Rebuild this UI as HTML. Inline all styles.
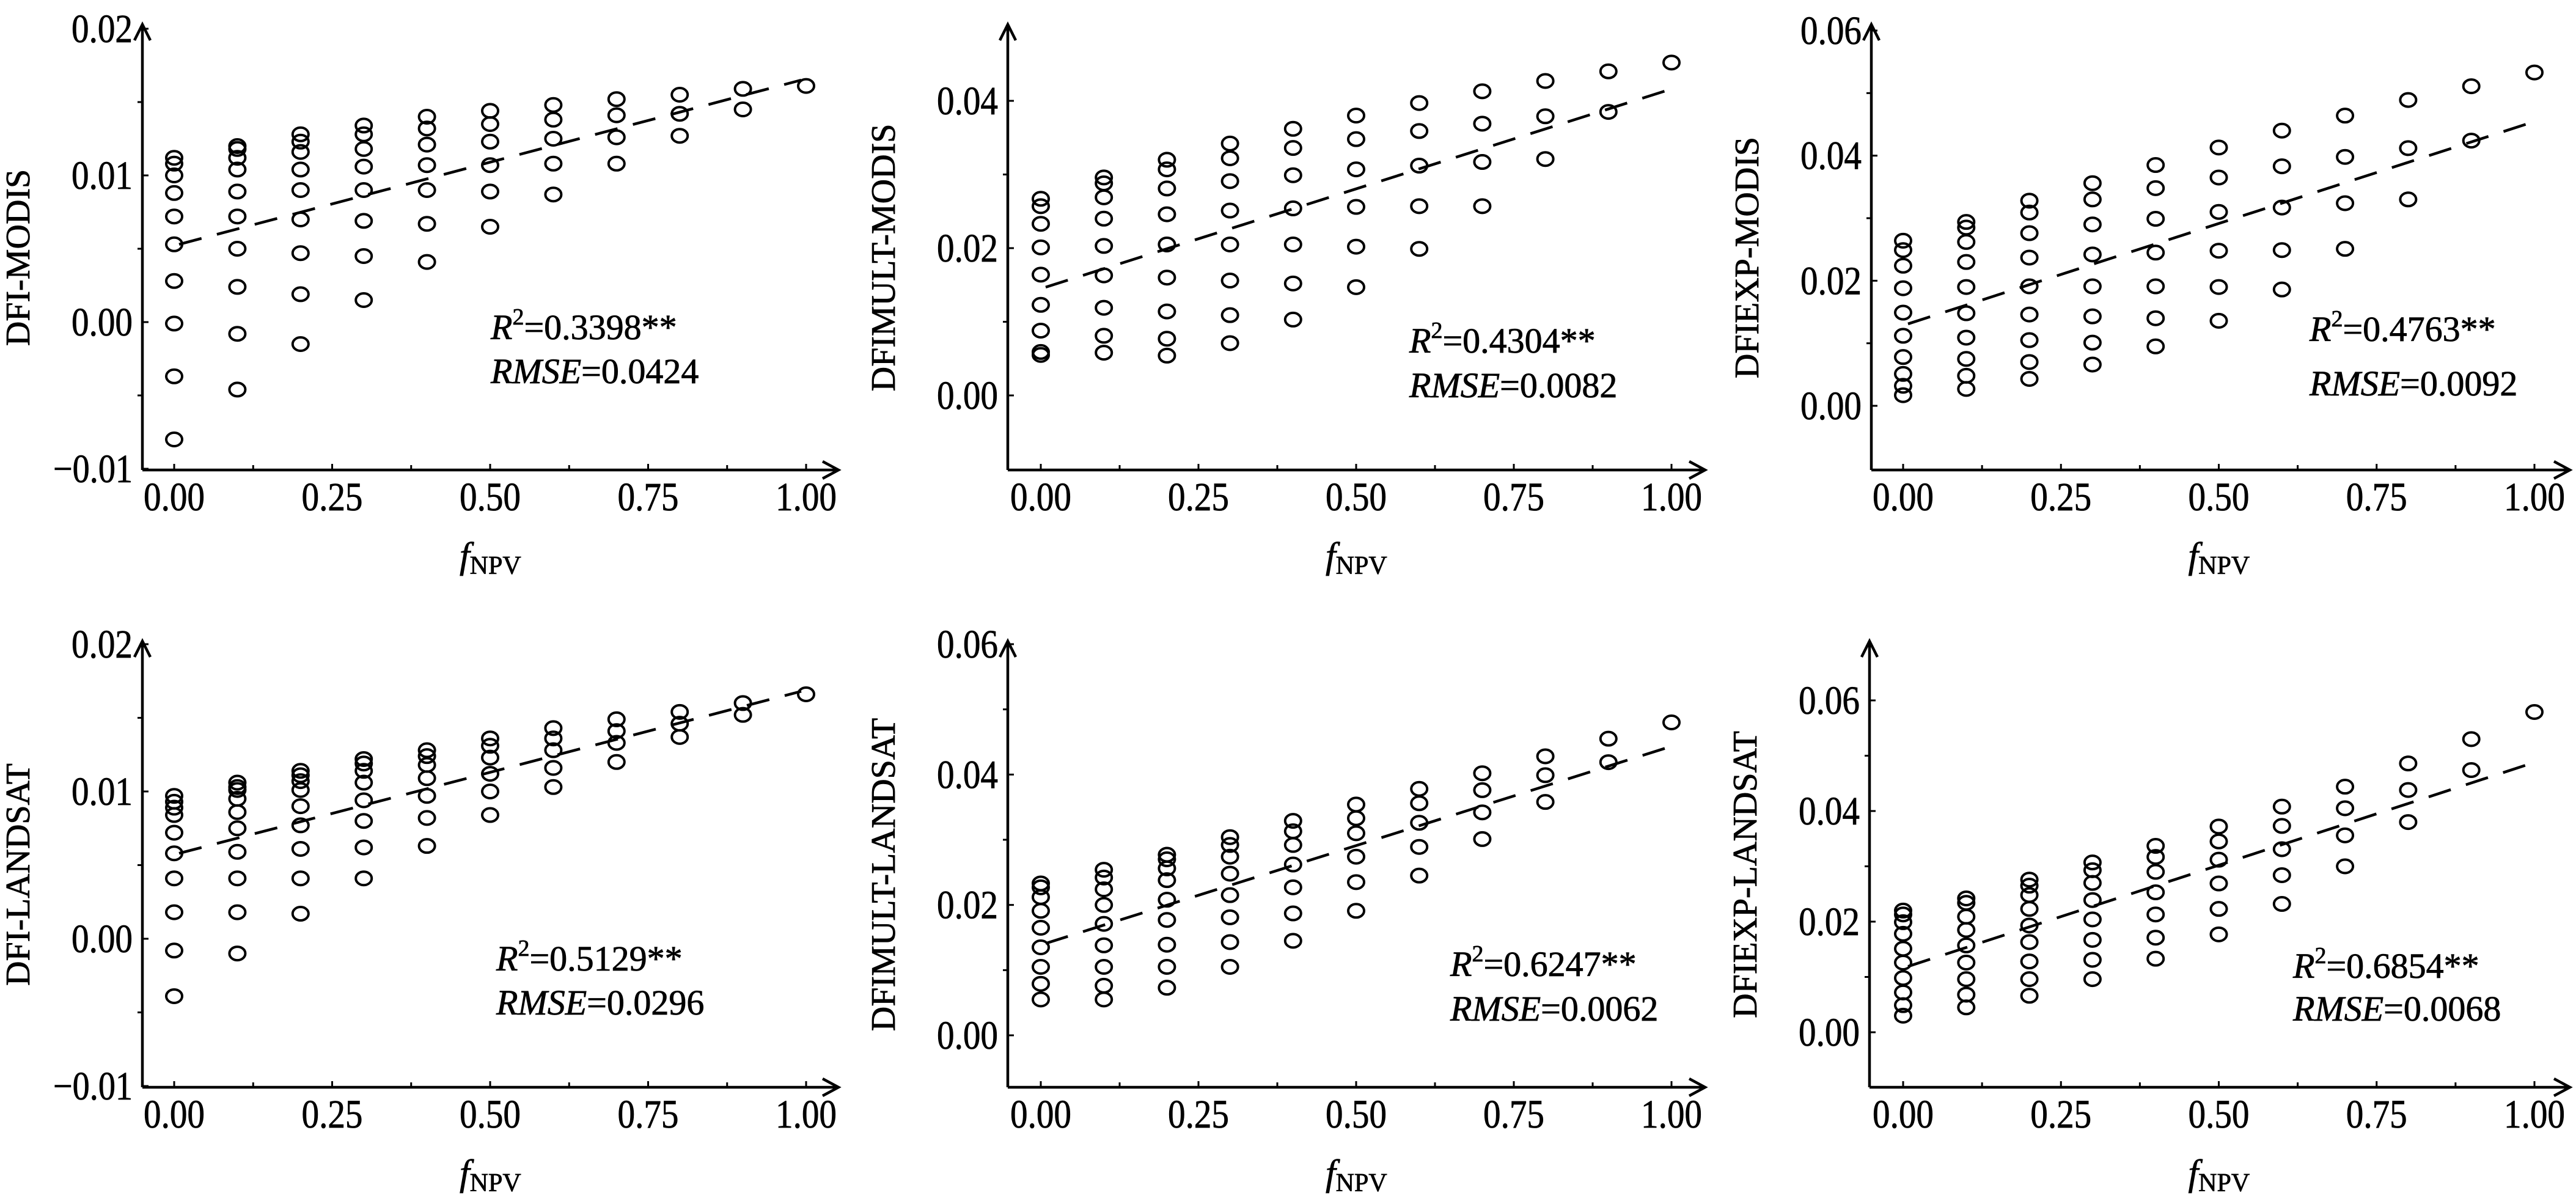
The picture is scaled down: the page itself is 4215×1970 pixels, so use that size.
<!DOCTYPE html>
<html><head><meta charset="utf-8">
<style>
html,body{margin:0;padding:0;background:#fff;}
svg{display:block;}
text{font-family:"Liberation Serif","Times New Roman",serif;fill:#000;stroke:#000;stroke-width:0.8;}
</style></head>
<body>
<svg id="fig" width="4215" height="1970" viewBox="0 0 4215 1970" xmlns="http://www.w3.org/2000/svg"></svg>
<script>
// ---- data ----
const fnpvCategories = [0,0.1,0.2,0.3,0.4,0.5,0.6,0.7,0.8,0.9,1.0];
const dfiModis = [
 [0.0112,0.0108,0.0100,0.0088,0.0072,0.0053,0.0028,-0.0001,-0.0037,-0.0080],
 [0.0120,0.0118,0.0112,0.0104,0.0089,0.0072,0.0050,0.0024,-0.0008,-0.0046],
 [0.0128,0.0123,0.0116,0.0104,0.0090,0.0070,0.0047,0.0019,-0.0015],
 [0.0134,0.0128,0.0118,0.0106,0.0090,0.0069,0.0045,0.0015],
 [0.0140,0.0132,0.0121,0.0107,0.0090,0.0067,0.0041],
 [0.0144,0.0135,0.0123,0.0107,0.0089,0.0065],
 [0.0148,0.0138,0.0125,0.0108,0.0087],
 [0.0152,0.0141,0.0126,0.0108],
 [0.0155,0.0142,0.0127],
 [0.0159,0.0145],
 [0.0161]];
const dfimultModis = [
 [0.0267,0.0257,0.0233,0.0201,0.0164,0.0123,0.0088,0.0059,0.0055],
 [0.0296,0.0288,0.0269,0.0240,0.0203,0.0163,0.0119,0.0081,0.0058],
 [0.0320,0.0307,0.0281,0.0246,0.0205,0.0160,0.0114,0.0077,0.0054],
 [0.0342,0.0322,0.0291,0.0251,0.0205,0.0156,0.0109,0.0071],
 [0.0362,0.0336,0.0299,0.0254,0.0205,0.0152,0.0103],
 [0.0380,0.0348,0.0307,0.0256,0.0202,0.0147],
 [0.0397,0.0359,0.0312,0.0257,0.0199],
 [0.0413,0.0369,0.0317,0.0257],
 [0.0427,0.0379,0.0321],
 [0.0440,0.0385],
 [0.0452]];
const dfiexpModis = [
 [0.0264,0.0249,0.0224,0.0188,0.0149,0.0112,0.0078,0.0051,0.0032,0.0017],
 [0.0294,0.0285,0.0262,0.0230,0.0190,0.0148,0.0109,0.0075,0.0048,0.0027],
 [0.0328,0.0309,0.0276,0.0237,0.0191,0.0146,0.0105,0.0070,0.0043],
 [0.0356,0.0330,0.0290,0.0242,0.0191,0.0143,0.0101,0.0066],
 [0.0385,0.0348,0.0299,0.0245,0.0191,0.0140,0.0095],
 [0.0413,0.0365,0.0310,0.0248,0.0190,0.0136],
 [0.0440,0.0383,0.0317,0.0249,0.0186],
 [0.0464,0.0398,0.0324,0.0251],
 [0.0489,0.0412,0.0330],
 [0.0511,0.0424],
 [0.0533]];
const dfiLandsat = [
 [0.0097,0.0093,0.0089,0.0084,0.0072,0.0058,0.0041,0.0018,-0.0008,-0.0039],
 [0.0106,0.0103,0.0101,0.0095,0.0086,0.0075,0.0059,0.0041,0.0018,-0.0010],
 [0.0114,0.0111,0.0107,0.0101,0.0090,0.0077,0.0061,0.0041,0.0017],
 [0.0122,0.0119,0.0114,0.0106,0.0094,0.0080,0.0062,0.0041],
 [0.0128,0.0124,0.0118,0.0109,0.0097,0.0082,0.0063],
 [0.0136,0.0131,0.0123,0.0112,0.0100,0.0084],
 [0.0143,0.0136,0.0128,0.0116,0.0103],
 [0.0149,0.0141,0.0133,0.0120],
 [0.0154,0.0146,0.0137],
 [0.0160,0.0152],
 [0.0166]];
const dfimultLandsat = [
 [0.0233,0.0227,0.0212,0.0191,0.0165,0.0135,0.0105,0.0079,0.0055],
 [0.0254,0.0242,0.0224,0.0200,0.0171,0.0138,0.0105,0.0076,0.0055],
 [0.0277,0.0270,0.0256,0.0238,0.0208,0.0177,0.0139,0.0105,0.0073],
 [0.0304,0.0292,0.0274,0.0248,0.0215,0.0181,0.0143,0.0105],
 [0.0329,0.0313,0.0292,0.0262,0.0227,0.0187,0.0145],
 [0.0354,0.0333,0.0310,0.0274,0.0235,0.0191],
 [0.0378,0.0356,0.0326,0.0289,0.0245],
 [0.0402,0.0376,0.0342,0.0301],
 [0.0428,0.0399,0.0358],
 [0.0455,0.0419],
 [0.0480]];
const dfiexpLandsat = [
 [0.0220,0.0213,0.0199,0.0178,0.0151,0.0126,0.0098,0.0072,0.0049,0.0030],
 [0.0242,0.0234,0.0209,0.0185,0.0157,0.0126,0.0096,0.0068,0.0045],
 [0.0276,0.0265,0.0248,0.0223,0.0193,0.0163,0.0128,0.0096,0.0066],
 [0.0307,0.0293,0.0270,0.0239,0.0204,0.0167,0.0131,0.0096],
 [0.0337,0.0317,0.0290,0.0253,0.0213,0.0171,0.0133],
 [0.0372,0.0345,0.0312,0.0269,0.0223,0.0177],
 [0.0408,0.0373,0.0331,0.0284,0.0232],
 [0.0444,0.0405,0.0356,0.0300],
 [0.0486,0.0438,0.0380],
 [0.0530,0.0474],
 [0.0579]];
const fitDfiModis = [0.0053,0.0165];
const fitDfimultModis = [0.0147,0.0414];
const fitDfiexpModis = [0.0131,0.0452];
const fitDfiLandsat = [0.0058,0.0168];
const fitDfimultLandsat = [0.0141,0.0441];
const fitDfiexpLandsat = [0.0119,0.0485];
const xTickLabels = ["0.00","0.25","0.50","0.75","1.00"];
const xTickValues = [0,0.25,0.5,0.75,1];
const yTicksSmall = [0.02,0.01,0,-0.01];
const yTicksMult = [0.04,0.02,0];
const yTicksWide = [0.06,0.04,0.02,0];
const r2Labels = ["0.3398","0.4304","0.4763","0.5129","0.6247","0.6854"];
const rmseLabels = ["0.0424","0.0082","0.0092","0.0296","0.0062","0.0068"];
const yTitles = ["DFI-MODIS","DFIMULT-MODIS","DFIEXP-MODIS","DFI-LANDSAT","DFIMULT-LANDSAT","DFIEXP-LANDSAT"];

// ---- layout ----
const panels = [
 {ax:233, x0:285, x1:1319, xend:1372, ytop:38, yaxis:769, va:0.02, pa:47, vb:-0.01, pb:767, ticks:yTicksSmall, pts:dfiModis, fit:fitDfiModis, rx:803, r2y:555, rmy:627},
 {ax:1649, x0:1703, x1:2735, xend:2790, ytop:38, yaxis:769, va:0.04, pa:165, vb:0, pb:647, ticks:yTicksMult, pts:dfimultModis, fit:fitDfimultModis, rx:2306, r2y:577, rmy:650},
 {ax:3062, x0:3114, x1:4147, xend:4205, ytop:38, yaxis:769, va:0.06, pa:50, vb:0, pb:664, ticks:yTicksWide, pts:dfiexpModis, fit:fitDfiexpModis, rx:3779, r2y:558, rmy:647},
 {ax:233, x0:285, x1:1319, xend:1372, ytop:1047, yaxis:1779, va:0.02, pa:1054, vb:-0.01, pb:1777, ticks:yTicksSmall, pts:dfiLandsat, fit:fitDfiLandsat, rx:812, r2y:1588, rmy:1660},
 {ax:1649, x0:1703, x1:2735, xend:2790, ytop:1047, yaxis:1779, va:0.06, pa:1054, vb:0, pb:1694, ticks:yTicksWide, pts:dfimultLandsat, fit:fitDfimultLandsat, rx:2373, r2y:1597, rmy:1670},
 {ax:3059, x0:3114, x1:4147, xend:4205, ytop:1047, yaxis:1779, va:0.06, pa:1146, vb:0, pb:1689, ticks:yTicksWide, pts:dfiexpLandsat, fit:fitDfiexpLandsat, rx:3752, r2y:1600, rmy:1670}
];
const NS="http://www.w3.org/2000/svg";
const svg=document.getElementById('fig');
function mk(tag,attrs,parent){const e=document.createElementNS(NS,tag);for(const k in attrs)e.setAttribute(k,attrs[k]);parent.appendChild(e);return e;}

panels.forEach((p,i)=>{
  const xs=v=>p.x0+(p.x1-p.x0)*v;
  const ys=v=>p.pa+(v-p.va)*(p.pb-p.pa)/(p.vb-p.va);
  const g=mk('g',{},svg);
  
  
  const ya=mk('path',{d:`M${p.ax},${p.yaxis} L${p.ax},${p.ytop+4} M${p.ax-13},${p.ytop+28} L${p.ax},${p.ytop+2} L${p.ax+13},${p.ytop+28}`,stroke:'#000','stroke-width':4.5,fill:'none'},g);
  
  
  const xa=mk('path',{d:`M${p.ax},${p.yaxis} L${p.xend-2},${p.yaxis} M${p.xend-26},${p.yaxis-14} L${p.xend},${p.yaxis} L${p.xend-26},${p.yaxis+14}`,stroke:'#000','stroke-width':4.5,fill:'none'},g);
  
  
  xTickValues.forEach((v,k)=>{
    mk('line',{x1:xs(v),x2:xs(v),y1:p.yaxis,y2:p.yaxis-10,stroke:'#000','stroke-width':3},g);
    if(v<1) mk('line',{x1:xs(v+0.125),x2:xs(v+0.125),y1:p.yaxis,y2:p.yaxis-8,stroke:'#000','stroke-width':3},g);
    const t=mk('text',{x:xs(v),y:p.yaxis+66,'font-size':66,'text-anchor':'middle',textLength:100,lengthAdjust:'spacingAndGlyphs'},g);
    t.textContent=xTickLabels[k];
    
    
  });
  const step=p.ticks[0]-p.ticks[1];
  p.ticks.forEach(v=>{
    const y=ys(v);
    mk('line',{x1:p.ax,x2:p.ax+10,y1:y,y2:y,stroke:'#000','stroke-width':3},g);
    const ym=ys(v-step/2);
    if(ym<p.yaxis-5) mk('line',{x1:p.ax,x2:p.ax-8,y1:ym,y2:ym,stroke:'#000','stroke-width':3},g);
    const lab=(v<0?'\u2212':'')+Math.abs(v).toFixed(2);
    const t=mk('text',{x:p.ax-16,y:y+22,'font-size':66,'text-anchor':'end',textLength:v<0?130:100,lengthAdjust:'spacingAndGlyphs'},g);
    t.textContent=lab;
    
    
  });
  const cy=(p.ytop+p.yaxis)/2+18;
  const yt=mk('text',{x:0,y:0,'font-size':56,'text-anchor':'middle',transform:`translate(${p.ax-185},${cy}) rotate(-90)`},g);
  yt.textContent=yTitles[i];
  
  
  const xt=mk('text',{x:(p.x0+p.x1)/2-50,y:p.yaxis+160,'font-size':60},g);
  xt.innerHTML='<tspan font-style="italic">f</tspan><tspan font-size="42" dy="10">NPV</tspan>';
  
  
  const fl=mk('line',{x1:xs(0)+8,y1:ys(p.fit[0]),x2:xs(1)-8,y2:ys(p.fit[1]),stroke:'#000','stroke-width':4.5,'stroke-dasharray':'38 26'},g);
  
  
  p.pts.forEach((col,k)=>{
    col.forEach(v=>{
      const c=mk('ellipse',{cx:xs(fnpvCategories[k]),cy:ys(v),rx:13,ry:11,fill:'none',stroke:'#000','stroke-width':4},g);
      
      
    });
  });
  const r=mk('text',{x:p.rx,y:p.r2y,'font-size':58},g);
  r.innerHTML='<tspan font-style="italic">R</tspan><tspan font-size="38" dy="-24">2</tspan><tspan dy="24">=</tspan>'+r2Labels[i]+'**';
  
  
  const m=mk('text',{x:p.rx,y:p.rmy,'font-size':58},g);
  m.innerHTML='<tspan font-style="italic">RMSE</tspan>='+rmseLabels[i];
  
  
});
</script>
</body></html>
